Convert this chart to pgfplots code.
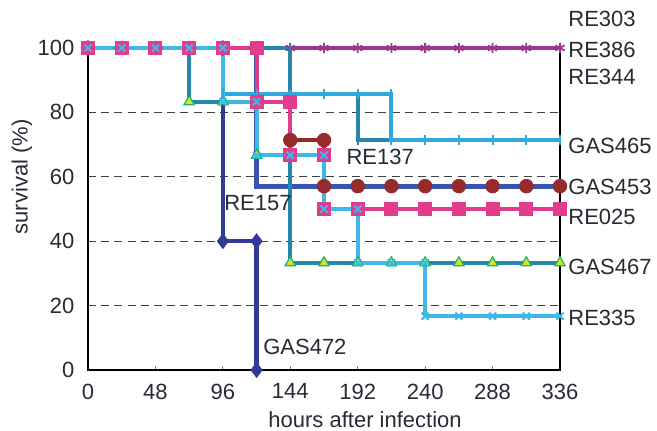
\documentclass[border=0pt]{standalone}
\usepackage{fontspec}
\setmainfont{Liberation Sans}
\usepackage{pgfplots}
\pgfplotsset{compat=1.18}
\definecolor{cpurple}{RGB}{155,55,145}
\definecolor{cnavy}{RGB}{50,58,150}
\definecolor{cblue}{RGB}{55,85,175}
\definecolor{cdred}{RGB}{150,42,45}
\definecolor{cpink}{RGB}{226,60,140}
\definecolor{cteal}{RGB}{38,135,170}
\definecolor{clblue}{RGB}{45,170,222}
\definecolor{cxblue}{RGB}{60,185,230}
\definecolor{cyel}{RGB}{215,225,50}
\definecolor{ctext}{RGB}{40,42,52}
\begin{document}
\fontsize{11}{13}\selectfont
\begin{tikzpicture}
\begin{axis}[
  scale only axis, width=236pt, height=161pt,
  xmin=0, xmax=336, ymin=0, ymax=100,
  xtick={0,48,96,144,192,240,288,336},
  ytick={0,20,40,60,80,100},
  clip=false,
  axis line style={black, line width=0.8pt},
  tick align=inside, xtick pos=bottom, ytick pos=left,
  major tick length=2pt,
  ytick style={draw=none},
  xtick style={gray, line width=0.6pt},
  /pgf/number format/assume math mode=true,
  every tick label/.append style={text=ctext},
  yticklabel style={xshift=-3pt},
  xticklabel style={yshift=-3pt},
  xlabel={hours after infection},
  ylabel={survival (\%)},
  xlabel style={at={(axis description cs:0.587,0)}, anchor=center, yshift=-25pt, text=ctext},
  ylabel style={at={(axis description cs:0,0.6)}, anchor=center, yshift=33pt, text=ctext},
]
% dashed reference lines
\foreach \yy in {20,40,60,80} {
  \edef\tmp{\noexpand\draw[dash pattern=on 4pt off 2.6pt, black!75, line width=0.6pt] (axis cs:0,\yy) -- (axis cs:336,\yy);}
  \tmp
}
% RE303 / RE386 / RE344
\addplot[cpurple, line width=2pt, mark=asterisk, mark size=2.6pt, mark options={line width=0.9pt}] coordinates {
 (0,100)(24,100)(48,100)(72,100)(96,100)(120,100)(144,100)(168,100)(192,100)(216,100)(240,100)(264,100)(288,100)(312,100)(336,100)};
% GAS472
\addplot[cnavy, line width=2.2pt, mark=diamond*, mark size=2.2pt] coordinates {
 (0,100)(96,100)(96,40)(120,40)(120,0)};
% GAS453 line
\addplot[cdred, line width=2pt] coordinates {
 (0,100)(144,100)(144,71.4)(168,71.4)(168,57.1)(336,57.1)};
% RE157
\addplot[cblue, line width=2.4pt] coordinates {
 (0,100)(120,100)(120,57.1)(336,57.1)};
% GAS453 marks
\addplot[cdred, only marks, mark=*, mark size=3.4pt] coordinates {
 (0,100)(24,100)(48,100)(72,100)(96,100)(120,100)(144,71.4)(168,71.4)(168,57.1)(192,57.1)(216,57.1)(240,57.1)(264,57.1)(288,57.1)(312,57.1)(336,57.1)};
% teal series
\addplot[cteal, line width=2pt, mark=|, mark size=2.6pt, mark options={line width=1pt}] coordinates {
 (0,100)(24,100)(48,100)(72,100)(96,100)(120,100)(144,100)(144,85.7)(168,85.7)(192,85.7)(192,71.4)(216,71.4)(240,71.4)(264,71.4)(288,71.4)(312,71.4)(336,71.4)};
% GAS467
\addplot[cteal, line width=2pt, mark=triangle*, mark size=3pt, mark options={fill=cyel, draw=cteal!60!green, line width=0.6pt}] coordinates {
 (0,100)(24,100)(48,100)(72,100)(72,83.3)(96,83.3)(120,83.3)(120,66.7)(144,66.7)(144,33.3)(168,33.3)(192,33.3)(216,33.3)(240,33.3)(264,33.3)(288,33.3)(312,33.3)(336,33.3)};
% GAS465
\addplot[clblue, line width=2pt, mark=|, mark size=2.6pt, mark options={line width=1pt}] coordinates {
 (0,100)(24,100)(48,100)(72,100)(96,100)(96,85.7)(120,85.7)(144,85.7)(168,85.7)(192,85.7)(216,85.7)(216,71.4)(240,71.4)(264,71.4)(288,71.4)(312,71.4)(336,71.4)};
% RE025
\addplot[cpink, line width=2pt, mark=square*, mark size=2.5pt] coordinates {
 (0,100)(24,100)(48,100)(72,100)(96,100)(120,100)(120,83.3)(144,83.3)(144,66.7)(168,66.7)(168,50)(192,50)(216,50)(240,50)(264,50)(288,50)(312,50)(336,50)};
% RE335
\addplot[cxblue, line width=2pt, mark=x, mark size=2.5pt, mark options={line width=1pt}] coordinates {
 (0,100)(24,100)(48,100)(72,100)(96,100)(96,83.3)(120,83.3)(120,66.7)(144,66.7)(168,66.7)(168,50)(192,50)(192,33.3)(216,33.3)(240,33.3)(240,16.7)(264,16.7)(288,16.7)(312,16.7)(336,16.7)};
% labels
\begin{scope}[every node/.style={anchor=west, text=ctext, xshift=2pt, inner sep=2pt}]
\node at (axis cs:336,109) {RE303};
\node at (axis cs:336,99.4) {RE386};
\node at (axis cs:336,91) {RE344};
\node at (axis cs:336,69.6) {GAS465};
\node at (axis cs:336,56.8) {GAS453};
\node at (axis cs:336,47.5) {RE025};
\node at (axis cs:336,32) {GAS467};
\node at (axis cs:336,16.1) {RE335};
\end{scope}
\node[text=ctext, inner sep=1pt] at (axis cs:208,66.1) {RE137};
\node[text=ctext, inner sep=1pt] at (axis cs:121,51.9) {RE157};
\node[text=ctext, inner sep=1pt] at (axis cs:154.4,7.1) {GAS472};
\end{axis}
\pgfresetboundingbox
\useasboundingbox (-44pt,-30pt) rectangle (284.5pt,185pt);
\end{tikzpicture}
\end{document}
